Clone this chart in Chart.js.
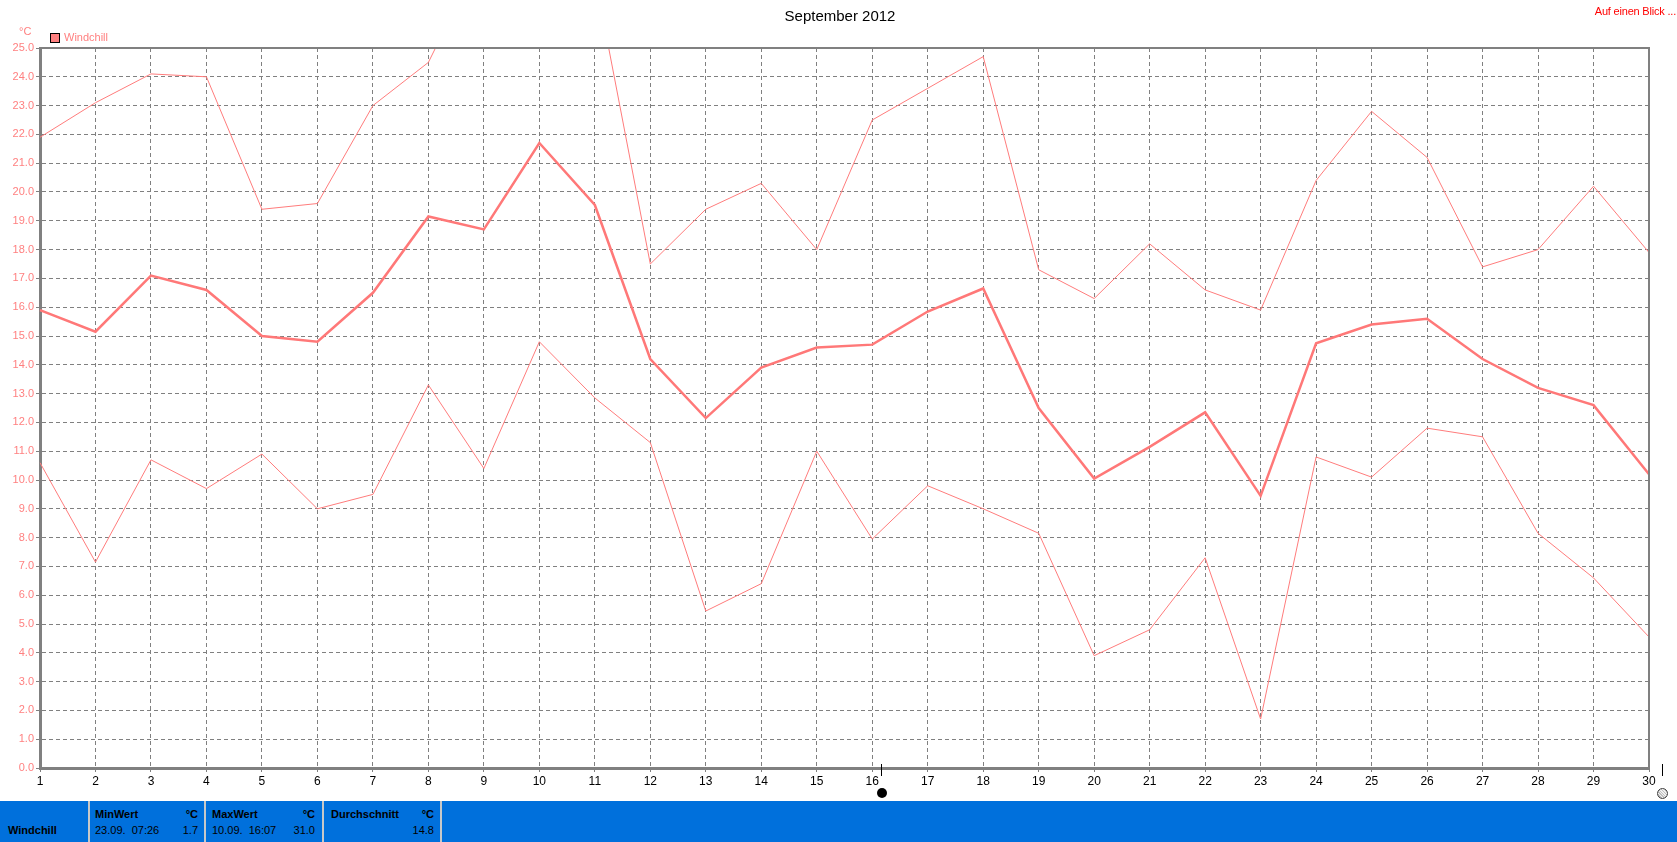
<!DOCTYPE html>
<html>
<head>
<meta charset="utf-8">
<script src="https://cdn.jsdelivr.net/npm/chart.js@4/dist/chart.umd.min.js"></script>
<style>
  html, body { margin:0; padding:0; background:#fff; }
  body { width:1677px; height:842px; position:relative; overflow:hidden; font-family:"Liberation Sans", Arial, sans-serif; }
  #wrap { position:absolute; left:0; top:0; width:1677px; height:842px; }
  .t { position:absolute; white-space:nowrap; line-height:1; }
  #panel { position:absolute; left:0; top:801px; width:1677px; height:41px; background:#0070dc; }
  .div { position:absolute; top:0; width:2px; height:41px; background:#c8c8c8; }
  .pt { position:absolute; font-size:11px; font-weight:bold; color:#000; white-space:nowrap; line-height:1; }
  .pn { position:absolute; font-size:11px; color:#000; white-space:nowrap; line-height:1; }
</style>
</head>
<body>
<div id="wrap"><canvas id="c" width="1677" height="842"></canvas></div>

<div class="t" style="left:840px;top:8px;transform:translateX(-50%);font-size:15px;color:#000;">September 2012</div>
<div class="t" style="right:1px;top:6px;font-size:11px;color:#ff0000;letter-spacing:-0.2px;">Auf einen Blick ...</div>
<div class="t" style="left:19px;top:26px;font-size:11px;color:#ff8080;">°C</div>
<div style="position:absolute;left:50px;top:33px;width:8px;height:8px;background:#ff8080;border:1px solid #000;"></div>
<div class="t" style="left:64px;top:32px;font-size:11px;color:#ff8080;">Windchill</div>

<div style="position:absolute;left:881px;top:764px;width:1px;height:12px;background:#000;"></div>
<div style="position:absolute;left:877px;top:788px;width:10px;height:10px;border-radius:50%;background:#000;"></div>
<div style="position:absolute;left:1662px;top:764px;width:1px;height:12px;background:#000;"></div>
<div style="position:absolute;left:1657px;top:788px;width:9px;height:9px;border-radius:50%;background:repeating-linear-gradient(45deg,#c0c0c0 0 1px,#f0f0f0 1px 2px);border:1px solid #404040;"></div>

<div id="panel">
  <div class="div" style="left:88px;"></div>
  <div class="div" style="left:204px;"></div>
  <div class="div" style="left:322px;"></div>
  <div class="div" style="left:440px;"></div>
  <div class="pt" style="left:8px;top:24px;">Windchill</div>

  <div class="pt" style="left:95px;top:8px;">MinWert</div>
  <div class="pt" style="left:183px;top:8px;width:15px;text-align:right;">°C</div>
  <div class="pn" style="left:95px;top:24px;">23.09.&nbsp; 07:26</div>
  <div class="pn" style="left:168px;top:24px;width:30px;text-align:right;">1.7</div>

  <div class="pt" style="left:212px;top:8px;">MaxWert</div>
  <div class="pt" style="left:300px;top:8px;width:15px;text-align:right;">°C</div>
  <div class="pn" style="left:212px;top:24px;">10.09.&nbsp; 16:07</div>
  <div class="pn" style="left:285px;top:24px;width:30px;text-align:right;">31.0</div>

  <div class="pt" style="left:331px;top:8px;">Durchschnitt</div>
  <div class="pt" style="left:419px;top:8px;width:15px;text-align:right;">°C</div>
  <div class="pn" style="left:404px;top:24px;width:30px;text-align:right;">14.8</div>
</div>

<script>
const days = ['1','2','3','4','5','6','7','8','9','10','11','12','13','14','15','16','17','18','19','20','21','22','23','24','25','26','27','28','29','30'];
const maxVals = [21.9, 23.1, 24.1, 24.0, 19.4, 19.6, 23.0, 24.5, 28.4, 31.0, 27.5, 17.5, 19.4, 20.3, 18.0, 22.5, 23.6, 24.7, 17.3, 16.3, 18.2, 16.6, 15.9, 20.4, 22.8, 21.2, 17.4, 18.0, 20.2, 17.9];
const avgVals = [15.9, 15.15, 17.1, 16.6, 15.0, 14.8, 16.5, 19.15, 18.7, 21.7, 19.55, 14.2, 12.15, 13.9, 14.6, 14.7, 15.85, 16.65, 12.5, 10.05, 11.15, 12.35, 9.45, 14.75, 15.4, 15.6, 14.2, 13.2, 12.6, 10.2];
const minVals = [10.6, 7.15, 10.7, 9.7, 10.9, 9.0, 9.5, 13.3, 10.4, 14.8, 12.85, 11.3, 5.45, 6.4, 11.0, 7.95, 9.8, 9.0, 8.15, 3.9, 4.8, 7.3, 1.7, 10.8, 10.1, 11.8, 11.5, 8.15, 6.6, 4.55];
const yMin = 0, yMax = 25, yStep = 1;

const frame = {
  id: 'frame',
  afterDraw(chart) {
    const a = chart.chartArea, ctx = chart.ctx;
    ctx.save();
    ctx.strokeStyle = '#808080';
    ctx.lineWidth = 2;
    ctx.beginPath();
    ctx.moveTo(a.left, a.top);
    ctx.lineTo(a.right, a.top);
    ctx.lineTo(a.right, a.bottom);
    ctx.stroke();
    ctx.restore();
  }
};

const font = { family: '"Liberation Sans", Arial, sans-serif', size: 11 };

new Chart(document.getElementById('c'), {
  type: 'line',
  data: {
    labels: days,
    datasets: [
      { label: 'Max', data: maxVals, borderColor: '#ff7c7c', borderWidth: 1, pointRadius: 0, tension: 0, fill: false },
      { label: 'Windchill', data: avgVals, borderColor: '#ff7878', borderWidth: 2.5, pointRadius: 0, tension: 0, fill: false },
      { label: 'Min', data: minVals, borderColor: '#ff7c7c', borderWidth: 1, pointRadius: 0, tension: 0, fill: false }
    ]
  },
  options: {
    responsive: false,
    animation: false,
    layout: { padding: { top: 48, right: 28, left: 0, bottom: 0 } },
    plugins: { legend: { display: false }, title: { display: false }, tooltip: { enabled: false } },
    scales: {
      x: {
        offset: false,
        grid: { color: '#808080', lineWidth: 1, tickLength: 4, tickColor: '#808080', drawOnChartArea: true },
        border: { color: '#808080', width: 3, dash: [4, 3] },
        ticks: { color: '#000', font: { family: font.family, size: 12 }, padding: 2, autoSkip: false, maxRotation: 0 },
        afterFit(s) { s.height = 74; }
      },
      y: {
        min: yMin, max: yMax,
        grid: { color: '#808080', lineWidth: 1, tickLength: 4, tickColor: '#808080' },
        border: { color: '#808080', width: 3, dash: [4, 3] },
        ticks: { stepSize: yStep, color: '#ff8080', font: font, padding: 2, autoSkip: false,
                 callback: v => Number(v).toFixed(1) },
        afterFit(s) { s.width = 40; }
      }
    }
  },
  plugins: [frame]
});
</script>
</body>
</html>
